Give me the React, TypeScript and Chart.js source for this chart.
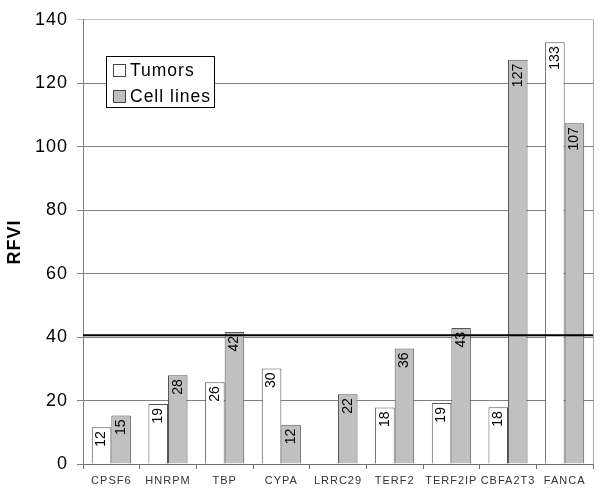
import React, { useEffect, useRef } from "react";
import { Chart, registerables } from "chart.js";

Chart.register(...registerables);

const categories = ["CPSF6", "HNRPM", "TBP", "CYPA", "LRRC29", "TERF2", "TERF2IP", "CBFA2T3", "FANCA"];
const tumors: (number | null)[] = [11.6, 18.9, 25.8, 30.1, null, 17.8, 19.2, 17.9, 132.9];
const cellLines: (number | null)[] = [15.3, 28, 41.6, 12.4, 22, 36.4, 42.9, 127.4, 107.4];
const thresholdValue = 40.6;
const yTicks = { min: 0, max: 140, step: 20 };
const seriesNames = ["Tumors", "Cell lines"];

const spacingPlugin = {
  id: "spacing",
  beforeDraw(chart: any) {
    (chart.ctx as any).letterSpacing = "1px";
  },
};

const extrasPlugin = {
  id: "extras",
  afterDatasetsDraw(chart: any) {
    const { ctx, chartArea, scales } = chart;
    // right border
    ctx.save();
    ctx.strokeStyle = "#a8a8a8";
    ctx.lineWidth = 1;
    ctx.beginPath();
    ctx.moveTo(chartArea.right + 0.5, chartArea.top);
    ctx.lineTo(chartArea.right + 0.5, chartArea.bottom);
    ctx.stroke();
    // threshold line
    const ty = scales.y.getPixelForValue(thresholdValue);
    ctx.strokeStyle = "#000";
    ctx.lineWidth = 2;
    ctx.beginPath();
    ctx.moveTo(chartArea.left, ty);
    ctx.lineTo(chartArea.right, ty);
    ctx.stroke();
    // value labels
    (ctx as any).letterSpacing = "0px";
    ctx.fillStyle = "#000";
    ctx.font = "14px Arial, 'Liberation Sans', sans-serif";
    ctx.textAlign = "right";
    ctx.textBaseline = "middle";
    chart.data.datasets.forEach((ds: any, di: number) => {
      const meta = chart.getDatasetMeta(di);
      meta.data.forEach((el: any, i: number) => {
        const v = ds.data[i];
        if (v === null || v === undefined) return;
        ctx.save();
        ctx.translate(el.x, el.y + 4);
        ctx.rotate(-Math.PI / 2);
        ctx.fillText(String(Math.round(v)), 0, 0);
        ctx.restore();
      });
    });
    // legend
    (ctx as any).letterSpacing = "1px";
    const bx = 106.5, by = 56.5, bw = 108, bh = 51;
    ctx.fillStyle = "#fff";
    ctx.fillRect(bx, by, bw, bh);
    ctx.strokeStyle = "#000";
    ctx.lineWidth = 1;
    ctx.strokeRect(bx, by, bw, bh);
    const fills = ["#ffffff", "#c0c0c0"];
    const ys = [70.5, 96.5];
    ctx.font = "17.5px Arial, 'Liberation Sans', sans-serif";
    ctx.textAlign = "left";
    ctx.textBaseline = "middle";
    seriesNames.forEach((name, i) => {
      ctx.fillStyle = fills[i];
      ctx.fillRect(113.5, ys[i] - 6, 12, 12);
      ctx.strokeStyle = "#444";
      ctx.strokeRect(113.5, ys[i] - 6, 12, 12);
      ctx.fillStyle = "#000";
      ctx.fillText(name, 130, ys[i] + 1);
    });
    ctx.restore();
  },
};

export default function App() {
  const ref = useRef<HTMLCanvasElement>(null);
  useEffect(() => {
    if (!ref.current) return;
    const chart = new Chart(ref.current, {
      type: "bar",
      data: {
        labels: categories,
        datasets: [
          {
            label: seriesNames[0],
            data: tumors,
            backgroundColor: "#ffffff",
            borderColor: "#555555",
            borderWidth: 1,
            categoryPercentage: 0.69,
            barPercentage: 1,
          },
          {
            label: seriesNames[1],
            data: cellLines,
            backgroundColor: "#c0c0c0",
            borderColor: "#555555",
            borderWidth: 1,
            categoryPercentage: 0.69,
            barPercentage: 1,
          },
        ],
      },
      options: {
        animation: false,
        responsive: false,
        maintainAspectRatio: false,
        layout: { padding: { top: 13, right: 7, left: 0, bottom: 0 } },
        plugins: { legend: { display: false }, tooltip: { enabled: false } },
        scales: {
          x: {
            offset: true,
            grid: {
              offset: true,
              drawOnChartArea: false,
              drawTicks: true,
              tickLength: 5,
              color: "#707070",
            },
            border: { color: "#707070", width: 1 },
            ticks: {
              color: "#333",
              padding: 5,
              maxRotation: 0,
              autoSkip: false,
              font: { family: "Arial, 'Liberation Sans', sans-serif", size: 11 },
            },
            afterFit(scale: any) {
              scale.height = 27;
            },
          },
          y: {
            min: yTicks.min,
            max: yTicks.max,
            ticks: {
              stepSize: yTicks.step,
              color: "#000",
              padding: 9,
              font: { family: "Arial, 'Liberation Sans', sans-serif", size: 18 },
            },
            grid: {
              color: (c: any) => (c.tick && c.tick.value === 140 ? "#c0c0c0" : "#808080"),
              tickLength: 6,
            },
            border: { color: "#808080", width: 1 },
            title: {
              display: true,
              text: "RFVI",
              color: "#000",
              padding: { top: 4, bottom: 0 },
              font: { family: "Arial, 'Liberation Sans', sans-serif", size: 18, weight: "bold" },
            },
            afterFit(scale: any) {
              scale.width = 83;
            },
          },
        },
      },
      plugins: [spacingPlugin, extrasPlugin],
    });
    return () => chart.destroy();
  }, []);
  return (
    <div style={{ position: "absolute", left: 0, top: 0, width: 600, height: 491, background: "#fff" }}>
      <canvas ref={ref} width={600} height={491} style={{ width: 600, height: 491 }} />
    </div>
  );
}
